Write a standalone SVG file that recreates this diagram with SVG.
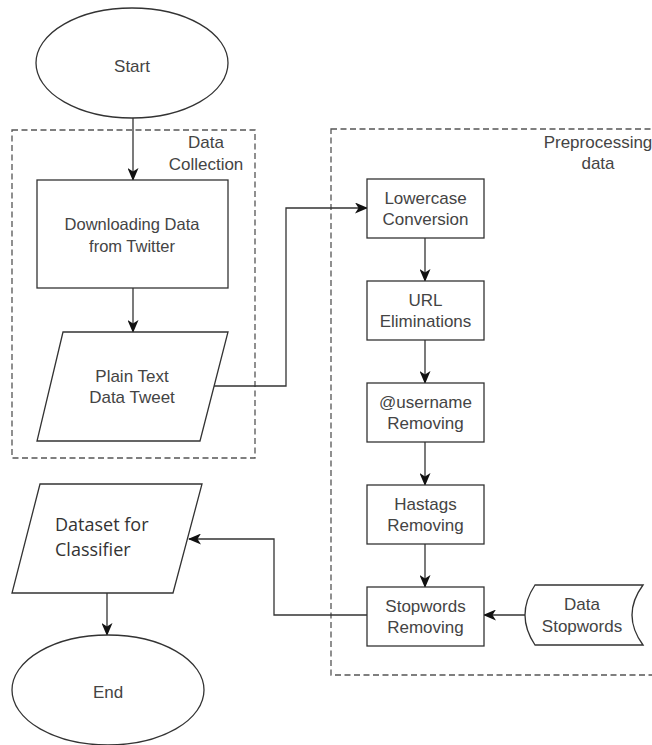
<svg xmlns="http://www.w3.org/2000/svg" width="652" height="745" viewBox="0 0 652 745">
<style>
.s{fill:#fff;stroke:#333;stroke-width:1.3}
.g{fill:none;stroke:#555;stroke-width:1.3;stroke-dasharray:6 3.5}
.c{fill:none;stroke:#333;stroke-width:1.3}
.t{font-family:"Liberation Sans",Arial,sans-serif;font-size:17px;fill:#444;text-anchor:middle}
.d{font-family:"Open Sans","Liberation Sans",sans-serif;font-size:18px;fill:#333}
</style>
<defs>
<marker id="ah" viewBox="0 0 13 11" refX="12" refY="5.5" markerWidth="13" markerHeight="11" markerUnits="userSpaceOnUse" orient="auto">
<path d="M0,0 L13,5.5 L0,11 L3.5,5.5 Z" fill="#111"/>
</marker>
</defs>
<rect fill="#fff" width="652" height="745"/>
<g id="group-data-collection">
<rect class="g" x="12" y="130" width="243" height="328"/>
<text class="t" x="206" y="148">Data</text>
<text class="t" x="206" y="170">Collection</text>
</g>
<g id="group-preprocessing">
<rect class="g" x="331" y="129" width="340" height="546"/>
<text class="t" x="598" y="148">Preprocessing</text>
<text class="t" x="598" y="169">data</text>
</g>
<g id="connectors">
<line class="c" x1="133" y1="118" x2="133" y2="180" marker-end="url(#ah)"/>
<line class="c" x1="133" y1="288" x2="133" y2="332" marker-end="url(#ah)"/>
<polyline class="c" points="214,386 286,386 286,208 367,208" marker-end="url(#ah)"/>
<line class="c" x1="425" y1="238" x2="425" y2="281" marker-end="url(#ah)"/>
<line class="c" x1="425" y1="340" x2="425" y2="383" marker-end="url(#ah)"/>
<line class="c" x1="425" y1="442" x2="425" y2="485" marker-end="url(#ah)"/>
<line class="c" x1="425" y1="544" x2="425" y2="587" marker-end="url(#ah)"/>
<line class="c" x1="525" y1="615" x2="484" y2="615" marker-end="url(#ah)"/>
<polyline class="c" points="367,615 274,615 274,539 189,539" marker-end="url(#ah)"/>
<line class="c" x1="107" y1="593" x2="107" y2="635" marker-end="url(#ah)"/>
</g>
<g id="start">
<ellipse class="s" cx="132" cy="63" rx="96" ry="55"/>
<text class="t" x="132" y="72">Start</text>
</g>
<g id="download">
<rect class="s" x="37" y="180" width="191" height="108"/>
<text class="t" x="132" y="230" style="font-size:16.5px">Downloading Data</text>
<text class="t" x="132" y="252" style="font-size:16.5px">from Twitter</text>
</g>
<g id="plain-text">
<polygon class="s" points="63,332 228,332 200,441 37,441"/>
<text class="t" x="132" y="382">Plain Text</text>
<text class="t" x="132" y="403">Data Tweet</text>
</g>
<g id="lowercase">
<rect class="s" x="367" y="179" width="117" height="59"/>
<text class="t" x="425.5" y="204">Lowercase</text>
<text class="t" x="425.5" y="225">Conversion</text>
</g>
<g id="url">
<rect class="s" x="367" y="281" width="117" height="59"/>
<text class="t" x="425.5" y="306">URL</text>
<text class="t" x="425.5" y="327">Eliminations</text>
</g>
<g id="username">
<rect class="s" x="367" y="383" width="117" height="59"/>
<text class="t" x="425.5" y="408">@username</text>
<text class="t" x="425.5" y="429">Removing</text>
</g>
<g id="hastags">
<rect class="s" x="367" y="485" width="117" height="59"/>
<text class="t" x="425.5" y="510">Hastags</text>
<text class="t" x="425.5" y="531">Removing</text>
</g>
<g id="stopwords">
<rect class="s" x="367" y="587" width="117" height="59"/>
<text class="t" x="425.5" y="612">Stopwords</text>
<text class="t" x="425.5" y="633">Removing</text>
</g>
<g id="data-stopwords">
<path class="s" d="M535,585 L643,585 Q621,615 643,645 L535,645 Q515,615 535,585 Z"/>
<text class="t" x="582" y="610">Data</text>
<text class="t" x="582" y="632">Stopwords</text>
</g>
<g id="dataset">
<polygon class="s" points="40,484 202,484 173,593 12,593"/>
<text class="d" x="55" y="531">Dataset for</text>
<text class="d" x="55" y="556">Classifier</text>
</g>
<g id="end">
<ellipse class="s" cx="108" cy="690" rx="96" ry="55"/>
<text class="t" x="108" y="698">End</text>
</g>
</svg>
